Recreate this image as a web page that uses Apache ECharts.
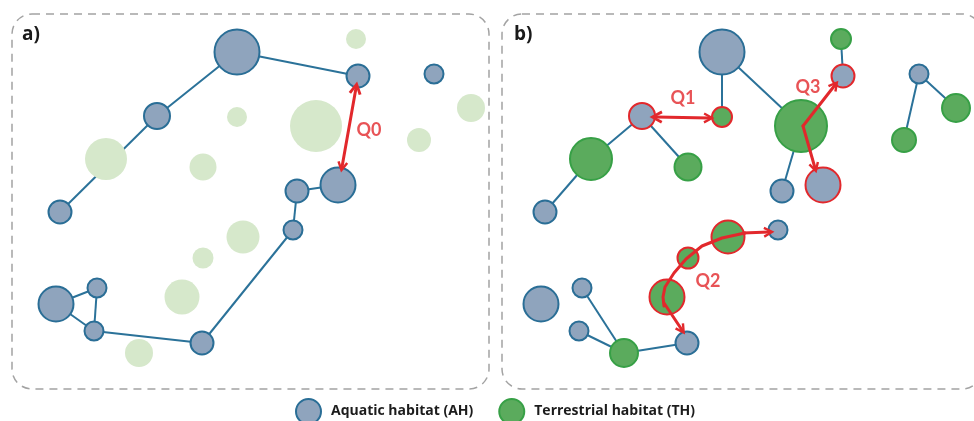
<!DOCTYPE html>
<html><head><meta charset="utf-8">
<script src="https://cdn.jsdelivr.net/npm/echarts@6/dist/echarts.min.js"></script>
<style>html,body{margin:0;padding:0;background:#fff}#c{width:974px;height:421px}</style>
</head><body><div id="c"></div>
<script>
// Node layout (panel-local units), node sizes, habitat type
const nodeX = [237,358,434,157,60,338,297,293,202,56,97,94, 356,237,316,471,419,106,203,243,203,182,139];
const nodeY = [52,76,74,116,212,185,191,230,343,304,288,331, 39,117,126,108,140,159,167,237,258,297,353];
const nodeSize = [45,23,19,26,23,35,23,19,23,35,19,19, 20,20,52,28,24,42,27,33,21,35,28];
const habitat = ['AH','AH','AH','AH','AH','AH','AH','AH','AH','AH','AH','AH','TH','TH','TH','TH','TH','TH','TH','TH','TH','TH','TH'];
const highlightedB = [1,3,5,13,19,20,21];
const edgesA = [[4,3],[3,0],[0,1],[5,6],[6,7],[7,8],[8,11],[11,9],[9,10],[10,11]];
const edgesB = [[4,17],[17,3],[3,18],[0,13],[0,14],[14,6],[1,12],[2,15],[2,16],[10,22],[11,22],[22,8]];
// Arrows: [panel, points, arrowAtStart, arrowAtEnd]
const arrows = [
  [0, [[356,88],[342,167]], true, true],
  [1, [[171,117],[224,118]], true, true],
  [1, [[318,126],[350,85]], false, true],
  [1, [[318,126],[330,168]], false, true],
  [1, [[179,303],[197,330]], false, true],
  [1, [[258,233],[284,232]], false, true]
];
const curves = [
  [1, [[179,306],[178,297],[180,287],[189,273],[201,259],[217,246],[237,238],[260,233]]]
];
const qLabels = [[0,'Q0',369,130],[1,'Q1',198,98],[1,'Q3',323,87],[1,'Q2',223,281]];
const legendNames = ['Aquatic habitat (AH)','Terrestrial habitat (TH)'];

const BLUE_FILL='#8fa4bd', BLUE_LINE='#2a6e96', EDGE='#2b7299', GREEN_FILL='#5bab5d', GREEN_LINE='#37a046', FADED='#d6e8cb', RED='#e2282c';
const chevron = 'path://M5,0 L10,9 L8,10 L5,4.2 L2,10 L0,9 Z';

const series = [];
function edgeData(edges){ return edges.map(e=>({coords:[[nodeX[e[0]],nodeY[e[0]]],[nodeX[e[1]],nodeY[e[1]]]]})); }
[edgesA, edgesB].forEach((edges,p)=>{
  series.push({type:'lines',coordinateSystem:'cartesian2d',xAxisIndex:p,yAxisIndex:p,z:1,silent:true,
    lineStyle:{color:EDGE,width:2,opacity:1},data:edgeData(edges)});
});
function nodes(p, type){
  const out=[];
  for(let i=0;i<nodeX.length;i++){ if(habitat[i]!==type) continue;
    const d={value:[nodeX[i],nodeY[i]],symbolSize:nodeSize[i]};
    if(p===1 && highlightedB.includes(i)) d.itemStyle={borderColor:RED};
    out.push(d);}
  return out;
}
// panel a
series.push({type:'scatter',name:'faded',xAxisIndex:0,yAxisIndex:0,z:2,silent:true,symbol:'circle',
  itemStyle:{color:FADED,opacity:1},data:nodes(0,'TH')});
series.push({type:'scatter',name:legendNames[0],xAxisIndex:0,yAxisIndex:0,z:3,silent:true,symbol:'circle',
  itemStyle:{color:BLUE_FILL,borderColor:BLUE_LINE,borderWidth:2,opacity:1},data:nodes(0,'AH')});
// panel b
series.push({type:'scatter',name:legendNames[0],xAxisIndex:1,yAxisIndex:1,z:3,silent:true,symbol:'circle',
  itemStyle:{color:BLUE_FILL,borderColor:BLUE_LINE,borderWidth:2,opacity:1},data:nodes(1,'AH')});
series.push({type:'scatter',name:legendNames[1],xAxisIndex:1,yAxisIndex:1,z:3,silent:true,symbol:'circle',
  itemStyle:{color:GREEN_FILL,borderColor:GREEN_LINE,borderWidth:2,opacity:1},data:nodes(1,'TH')});
// arrows
[0,1].forEach(p=>{
  series.push({type:'lines',coordinateSystem:'cartesian2d',xAxisIndex:p,yAxisIndex:p,z:5,silent:true,
    symbolSize:[13,11],lineStyle:{color:RED,width:3,opacity:1,cap:'round'},
    data:arrows.filter(a=>a[0]===p).map(a=>({coords:a[1],symbol:[a[2]?chevron:'none',a[3]?chevron:'none']}))});
  series.push({type:'lines',coordinateSystem:'cartesian2d',xAxisIndex:p,yAxisIndex:p,z:5,silent:true,polyline:true,
    lineStyle:{color:RED,width:3,opacity:1,cap:'round',join:'round'},
    data:curves.filter(a=>a[0]===p).map(a=>({coords:a[1]}))});
  series.push({type:'scatter',xAxisIndex:p,yAxisIndex:p,z:6,silent:true,symbolSize:0,
    label:{show:true,position:'inside',formatter:d=>d.name,color:RED,fontSize:18,fontWeight:'bold',fontFamily:'Lato'},
    data:qLabels.filter(q=>q[0]===p).map(q=>({name:q[1],value:[q[2],q[3]]}))});
});

const chart = echarts.init(document.getElementById('c'),null,{renderer:'canvas'});
chart.setOption({
  animation:false,
  grid:[{left:0,top:0,width:487,height:421},{left:485,top:0,width:487,height:421}],
  xAxis:[{type:'value',min:0,max:487,show:false,gridIndex:0},{type:'value',min:0,max:487,show:false,gridIndex:1}],
  yAxis:[{type:'value',min:0,max:421,inverse:true,show:false,gridIndex:0},{type:'value',min:0,max:421,inverse:true,show:false,gridIndex:1}],
  legend:{data:legendNames,top:393,left:290,icon:'circle',itemWidth:25,itemHeight:25,itemGap:25,selectedMode:false,
    textStyle:{fontFamily:'Open Sans',fontWeight:'bold',fontSize:14,color:'#1c1c1c',padding:[0,0,0,5]}},
  graphic:[
    {type:'rect',shape:{x:12,y:14,width:477,height:375,r:20},style:{fill:'none',stroke:'#a3a3a3',lineWidth:1.5,lineDash:[8,6]},z:0},
    {type:'rect',shape:{x:502,y:14,width:480,height:375,r:20},style:{fill:'none',stroke:'#a3a3a3',lineWidth:1.5,lineDash:[8,6]},z:0},
    {type:'text',left:22,top:25,style:{text:'a)',font:'bold 19px "Open Sans"',fill:'#1a1a1a'},z:10},
    {type:'text',left:514,top:25,style:{text:'b)',font:'bold 19px "Open Sans"',fill:'#1a1a1a'},z:10}
  ],
  series:series
});
</script></body></html>
